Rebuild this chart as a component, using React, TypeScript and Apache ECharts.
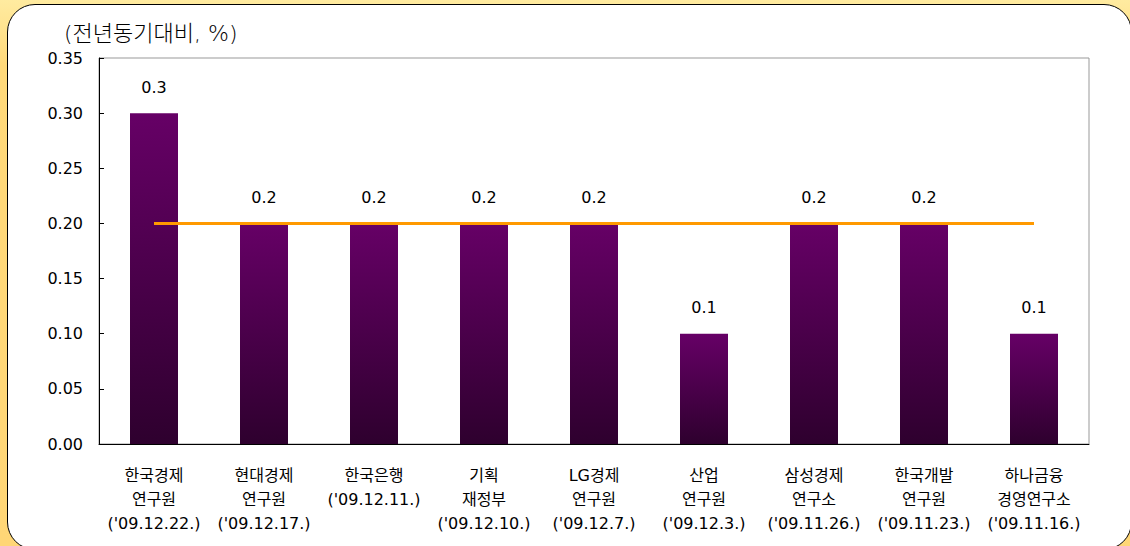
import React, { useEffect, useRef } from "react";
import * as echarts from "echarts";

const categories = [
  "한국경제\n연구원\n('09.12.22.)",
  "현대경제\n연구원\n('09.12.17.)",
  "한국은행\n('09.12.11.)",
  "기획\n재정부\n('09.12.10.)",
  "LG경제\n연구원\n('09.12.7.)",
  "산업\n연구원\n('09.12.3.)",
  "삼성경제\n연구소\n('09.11.26.)",
  "한국개발\n연구원\n('09.11.23.)",
  "하나금융\n경영연구소\n('09.11.16.)",
];
const forecastValues = [0.3, 0.2, 0.2, 0.2, 0.2, 0.1, 0.2, 0.2, 0.1];
const averageValues = [0.2, 0.2, 0.2, 0.2, 0.2, 0.2, 0.2, 0.2, 0.2];
const yMin = 0;
const yMax = 0.35;
const yInterval = 0.05;
const unitLabel = "(전년동기대비, %)";

const FONT = '"DejaVu Sans", "Noto Sans CJK KR", sans-serif';

export default function App() {
  const ref = useRef<HTMLDivElement>(null);
  useEffect(() => {
    document.body.style.margin = "0";
    const chart = echarts.init(ref.current!, null, { renderer: "svg" });
    chart.setOption({
      animation: false,
      backgroundColor: "transparent",
      grid: {
        left: 99,
        right: 41,
        top: 58,
        bottom: 102,
        show: true,
        borderColor: "#999",
        borderWidth: 1,
        backgroundColor: "transparent",
      },
      graphic: [
        {
          type: "text",
          left: 64,
          top: 22,
          style: {
            text: unitLabel,
            fontFamily: FONT,
            fontSize: 22,
            fontWeight: 300,
            fill: "#000",
          },
        },
      ],
      xAxis: {
        type: "category",
        data: categories,
        axisLine: { lineStyle: { color: "#000", width: 1 } },
        axisTick: { inside: true, length: 5, lineStyle: { color: "#000" } },
        axisLabel: {
          interval: 0,
          color: "#000",
          fontFamily: FONT,
          fontSize: 16,
          lineHeight: 24,
          margin: 19,
          verticalAlign: "top",
        },
        splitLine: { show: false },
      },
      yAxis: {
        type: "value",
        min: yMin,
        max: yMax,
        interval: yInterval,
        axisLine: { show: true, lineStyle: { color: "#000", width: 1 } },
        axisTick: { show: true, inside: true, length: 5, lineStyle: { color: "#000" } },
        axisLabel: {
          color: "#000",
          fontFamily: FONT,
          fontSize: 16,
          margin: 16,
          formatter: (v: number) => v.toFixed(2),
        },
        splitLine: { show: false },
      },
      series: [
        {
          type: "bar",
          data: forecastValues,
          barWidth: 48,
          itemStyle: {
            color: new echarts.graphic.LinearGradient(0, 0, 0, 1, [
              { offset: 0, color: "#660066" },
              { offset: 1, color: "#2E002E" },
            ]),
          },
          label: {
            show: true,
            position: "top",
            distance: 18,
            color: "#000",
            fontFamily: FONT,
            fontSize: 16,
          },
        },
        {
          type: "line",
          data: averageValues,
          symbol: "none",
          lineStyle: { color: "#FF9900", width: 3 },
          itemStyle: { color: "#FF9900" },
        },
      ],
    });
    return () => chart.dispose();
  }, []);
  return (
    <div
      style={{
        position: "relative",
        width: 1130,
        height: 546,
        overflow: "hidden",
        background: "linear-gradient(to bottom, #FFEBA0 0%, #FFD97A 12%, #FFD676 100%)",
      }}
    >
      <div
        style={{
          position: "absolute",
          left: 7,
          top: 4,
          width: 1125,
          height: 546,
          background: "#fff",
          border: "1.5px solid #000",
          borderRadius: 28,
          boxSizing: "border-box",
        }}
      />
      <div ref={ref} style={{ position: "absolute", left: 0, top: 0, width: 1130, height: 546 }} />
    </div>
  );
}
